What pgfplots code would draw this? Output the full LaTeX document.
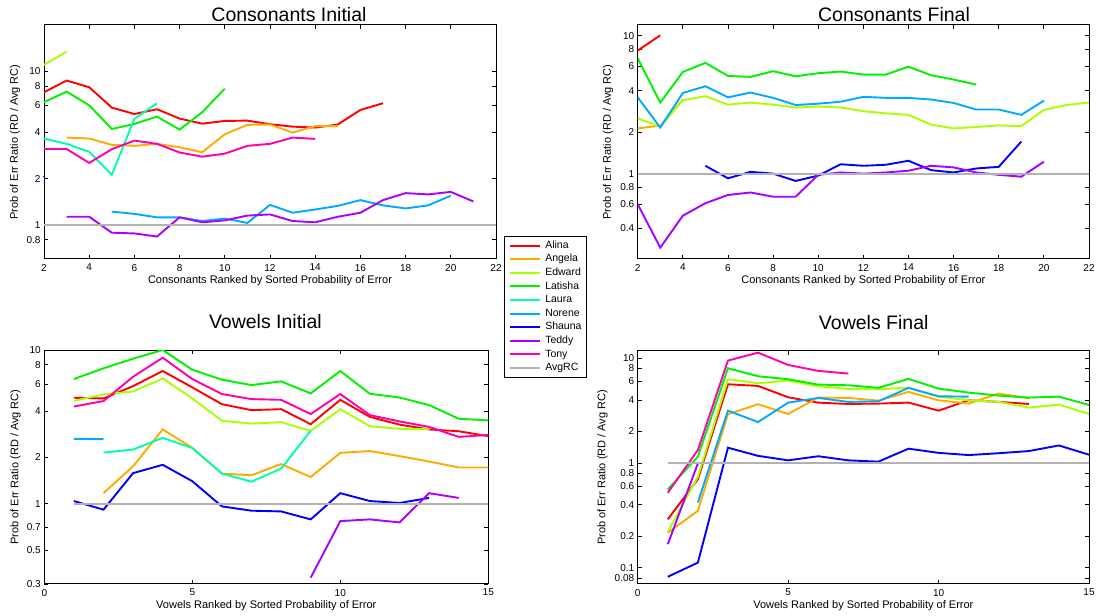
\documentclass[border=0pt]{standalone}
\usepackage{fontspec}
\setmainfont{Liberation Sans}
\usepackage{pgfplots}
\pgfplotsset{compat=1.18}
\definecolor{cAlina}{rgb}{1,0,0}
\definecolor{cAngela}{rgb}{1,0.6667,0}
\definecolor{cEdward}{rgb}{0.6667,1,0}
\definecolor{cLatisha}{rgb}{0,0.95,0}
\definecolor{cLaura}{rgb}{0,1,0.6667}
\definecolor{cNorene}{rgb}{0,0.6667,1}
\definecolor{cShauna}{rgb}{0,0,1}
\definecolor{cTeddy}{rgb}{0.6667,0,1}
\definecolor{cTony}{rgb}{1,0,0.6667}
\definecolor{cAvg}{rgb}{0.7,0.7,0.7}
\tikzset{ln/.style={line width=1.9pt}}
\pgfplotsset{
  /pgfplots/mystyle/.style={
    scale only axis, anchor=south west,
    axis line style={line width=1pt},
    tick style={black, line width=0.8pt}, major tick length=4pt,
    tick label style={font=\fontsize{10}{12}\selectfont},
    xticklabel style={yshift=-1.5pt},
    label style={font=\fontsize{11}{13}\selectfont},
  }
}
\begin{document}
\begin{tikzpicture}
% ---------------- Consonants Initial ----------------
\begin{axis}[mystyle, ymode=log, yminorticks=false,
  at={(44pt,357pt)}, width=452pt, height=234pt,
  xmin=2, xmax=22, xtick={2,4,...,22},
  xticklabels={2,4,6,8,10,12,14,16,18,20,22},
  ymin=0.6, ymax=20, ytick={0.8,1,2,4,6,8,10}, yticklabels={0.8,1,2,4,6,8,10},
  title={Consonants Initial},
  title style={at={(axis description cs:0.542,1.018)}, anchor=center, font=\fontsize{19.5}{22}\selectfont},
  xlabel={Consonants Ranked by Sorted Probability of Error},
  xlabel style={at={(axis description cs:0.5,-0.094)}, anchor=center},
  ylabel={Prob of Err Ratio (RD / Avg RC)},
  ylabel style={at={(axis description cs:-0.064,0.5)}, anchor=center},
  legend style={at={(axis description cs:1.0177,0.0983)}, anchor=north west,
    font=\fontsize{10.5}{12}\selectfont, draw=black, line width=0.8pt,
    inner xsep=5pt, inner ysep=4.5pt, row sep=4.1pt, column sep=4pt,
    nodes={inner sep=0pt, text height=7.5pt, text depth=2pt}, cells={anchor=west}},
  legend image code/.code={\draw[#1, line width=1.9pt] (8pt,0pt) -- (38pt,0pt);},
]
\addplot[cAlina, ln, forget plot] coordinates {(2,7.3)(3,8.7)(4,7.87)(5,5.8)(6,5.27)(7,5.66)(8,4.92)(9,4.56)(10,4.75)(11,4.77)(12,4.52)(13,4.36)(14,4.30)(15,4.50)(16,5.6)(17,6.19)};
\addplot[cAngela, ln, forget plot] coordinates {(3,3.70)(4,3.65)(5,3.32)(6,3.27)(7,3.37)(8,3.20)(9,2.97)(10,3.89)(11,4.48)(12,4.50)(13,3.99)(14,4.39)(15,4.39)};
\addplot[cEdward, ln, forget plot] coordinates {(2,11.0)(3,13.4)};
\addplot[cLatisha, ln, forget plot] coordinates {(2,6.29)(3,7.37)(4,6.0)(5,4.21)(6,4.54)(7,5.07)(8,4.17)(9,5.41)(10,7.71)};
\addplot[cLaura, ln, forget plot] coordinates {(2,3.65)(3,3.37)(4,2.99)(5,2.12)(6,4.9)(7,6.19)};
\addplot[cNorene, ln, forget plot] coordinates {(5,1.22)(6,1.18)(7,1.12)(8,1.12)(9,1.06)(10,1.10)(11,1.03)(12,1.35)(13,1.20)(14,1.26)(15,1.33)(16,1.45)(17,1.34)(18,1.28)(19,1.34)(20,1.55)};
\addplot[cShauna, forget plot, only marks, mark=*, mark size=0.6pt] coordinates {(2,2.06)};
\addplot[cTeddy, ln, forget plot] coordinates {(3,1.13)(4,1.13)(5,0.89)(6,0.88)(7,0.84)(8,1.12)(9,1.04)(10,1.07)(11,1.15)(12,1.17)(13,1.06)(14,1.04)(15,1.13)(16,1.20)(17,1.45)(18,1.61)(19,1.58)(20,1.64)(21,1.42)};
\addplot[cTony, ln, forget plot] coordinates {(2,3.12)(3,3.12)(4,2.53)(5,3.11)(6,3.54)(7,3.37)(8,2.96)(9,2.78)(10,2.91)(11,3.27)(12,3.37)(13,3.70)(14,3.63)};
\addplot[cAvg, ln, forget plot] coordinates {(2,1)(22,1)};
\addlegendimage{cAlina}\addlegendentry{Alina}
\addlegendimage{cAngela}\addlegendentry{Angela}
\addlegendimage{cEdward}\addlegendentry{Edward}
\addlegendimage{cLatisha}\addlegendentry{Latisha}
\addlegendimage{cLaura}\addlegendentry{Laura}
\addlegendimage{cNorene}\addlegendentry{Norene}
\addlegendimage{cShauna}\addlegendentry{Shauna}
\addlegendimage{cTeddy}\addlegendentry{Teddy}
\addlegendimage{cTony}\addlegendentry{Tony}
\addlegendimage{cAvg}\addlegendentry{AvgRC}
\end{axis}
% ---------------- Consonants Final ----------------
\begin{axis}[mystyle, ymode=log, yminorticks=false,
  at={(637.7pt,357pt)}, width=451.3pt, height=234pt,
  xmin=2, xmax=22, xtick={2,4,...,22},
  xticklabels={2,4,6,8,10,12,14,16,18,20,22},
  ymin=0.24, ymax=12, ytick={0.4,0.6,0.8,1,2,4,6,8,10}, yticklabels={0.4,0.6,0.8,1,2,4,6,8,10},
  title={Consonants Final},
  title style={at={(axis description cs:0.568,1.018)}, anchor=center, font=\fontsize{19.5}{22}\selectfont},
  xlabel={Consonants Ranked by Sorted Probability of Error},
  xlabel style={at={(axis description cs:0.5,-0.094)}, anchor=center},
  ylabel={Prob of Err Ratio (RD / Avg RC)},
  ylabel style={at={(axis description cs:-0.066,0.5)}, anchor=center},
]
\addplot[cAlina, ln] coordinates {(2,7.82)(3,10.1)};
\addplot[cAngela, ln] coordinates {(2,2.13)(3,2.23)(4,3.45)};
\addplot[cEdward, ln] coordinates {(2,2.52)(3,2.19)(4,3.41)(5,3.65)(6,3.17)(7,3.28)(8,3.17)(9,3.02)(10,3.07)(11,3.02)(12,2.84)(13,2.74)(14,2.67)(15,2.27)(16,2.13)(17,2.18)(18,2.24)(19,2.21)(20,2.90)(21,3.15)(22,3.28)};
\addplot[cLatisha, ln] coordinates {(2,6.88)(3,3.28)(4,5.47)(5,6.37)(6,5.12)(7,5.04)(8,5.54)(9,5.09)(10,5.36)(11,5.51)(12,5.24)(13,5.24)(14,5.98)(15,5.18)(16,4.82)(17,4.43)};
\addplot[cNorene, ln] coordinates {(2,3.58)(3,2.16)(4,3.85)(5,4.31)(6,3.58)(7,3.88)(8,3.55)(9,3.15)(10,3.22)(11,3.33)(12,3.61)(13,3.55)(14,3.55)(15,3.45)(16,3.26)(17,2.92)(18,2.92)(19,2.67)(20,3.39)};
\addplot[cShauna, ln] coordinates {(5,1.14)(6,0.925)(7,1.03)(8,1.0)(9,0.885)(10,0.967)(11,1.17)(12,1.14)(13,1.16)(14,1.24)(15,1.06)(16,1.02)(17,1.09)(18,1.12)(19,1.71)};
\addplot[cTeddy, ln] coordinates {(2,0.60)(3,0.29)(4,0.495)(5,0.61)(6,0.70)(7,0.73)(8,0.68)(9,0.68)(10,0.98)(11,1.02)(12,1.0)(13,1.02)(14,1.05)(15,1.14)(16,1.11)(17,1.02)(18,0.98)(19,0.95)(20,1.22)};
\addplot[cAvg, ln] coordinates {(2,1)(22,1)};
\end{axis}
% ---------------- Vowels Initial ----------------
\begin{axis}[mystyle, ymode=log, yminorticks=false,
  at={(44.3pt,32pt)}, width=444pt, height=234pt,
  xmin=0, xmax=15, xtick={0,5,10,15}, xticklabels={0,5,10,15},
  ymin=0.3, ymax=10, ytick={0.3,0.5,0.7,1,2,4,6,8,10}, yticklabels={0.3,0.5,0.7,1,2,4,6,8,10},
  title={Vowels Initial},
  title style={at={(axis description cs:0.498,1.094)}, anchor=center, font=\fontsize{19.5}{22}\selectfont},
  xlabel={Vowels Ranked by Sorted Probability of Error},
  xlabel style={at={(axis description cs:0.5,-0.094)}, anchor=center},
  ylabel={Prob of Err Ratio (RD / Avg RC)},
  ylabel style={at={(axis description cs:-0.065,0.5)}, anchor=center},
]
\addplot[cAlina, ln] coordinates {(1,4.89)(2,4.84)(3,5.82)(4,7.3)(5,5.71)(6,4.44)(7,4.06)(8,4.12)(9,3.29)(10,4.74)(11,3.67)(12,3.27)(13,3.04)(14,2.96)(15,2.75)};
\addplot[cAngela, ln] coordinates {(2,1.17)(3,1.75)(4,3.04)(5,2.31)(6,1.57)(7,1.53)(8,1.81)(9,1.49)(10,2.14)(11,2.20)(12,2.04)(13,1.88)(14,1.72)(15,1.72)};
\addplot[cEdward, ln] coordinates {(1,4.67)(2,5.14)(3,5.37)(4,6.53)(5,4.84)(6,3.46)(7,3.32)(8,3.39)(9,2.98)(10,4.12)(11,3.19)(12,3.07)(13,3.05)};
\addplot[cLatisha, ln] coordinates {(1,6.47)(2,7.6)(3,8.78)(4,10.0)(5,7.44)(6,6.41)(7,5.91)(8,6.25)(9,5.22)(10,7.3)(11,5.19)(12,4.91)(13,4.38)(14,3.57)(15,3.48)};
\addplot[cLaura, ln] coordinates {(2,2.15)(3,2.25)(4,2.68)(5,2.30)(6,1.57)(7,1.39)(8,1.69)(9,2.98)};
\addplot[cNorene, ln] coordinates {(1,2.64)(2,2.63)};
\addplot[cShauna, ln] coordinates {(1,1.04)(2,0.914)(3,1.58)(4,1.79)(5,1.40)(6,0.96)(7,0.90)(8,0.89)(9,0.79)(10,1.17)(11,1.04)(12,1.01)(13,1.09)};
\addplot[cTeddy, ln] coordinates {(9,0.33)(10,0.77)(11,0.79)(12,0.755)(13,1.17)(14,1.09)};
\addplot[cTony, ln] coordinates {(1,4.29)(2,4.65)(3,6.70)(4,8.91)(5,6.47)(6,5.17)(7,4.79)(8,4.74)(9,3.83)(10,5.17)(11,3.77)(12,3.43)(13,3.16)(14,2.72)(15,2.80)};
\addplot[cAvg, ln] coordinates {(1,1)(15,1)};
\end{axis}
% ---------------- Vowels Final ----------------
\begin{axis}[mystyle, ymode=log, yminorticks=false,
  at={(637.7pt,32pt)}, width=451.3pt, height=233.3pt,
  xmin=0, xmax=15, xtick={0,5,10,15}, xticklabels={0,5,10,15},
  ymin=0.07, ymax=11.8, ytick={0.08,0.1,0.2,0.4,0.6,0.8,1,2,4,6,8,10}, yticklabels={0.08,0.1,0.2,0.4,0.6,0.8,1,2,4,6,8,10},
  title={Vowels Final},
  title style={at={(axis description cs:0.523,1.094)}, anchor=center, font=\fontsize{19.5}{22}\selectfont},
  xlabel={Vowels Ranked by Sorted Probability of Error},
  xlabel style={at={(axis description cs:0.5,-0.094)}, anchor=center},
  ylabel={Prob of Err Ratio (RD / Avg RC)},
  ylabel style={at={(axis description cs:-0.078,0.5)}, anchor=center},
]
\addplot[cAlina, ln] coordinates {(1,0.29)(2,0.70)(3,5.64)(4,5.44)(5,4.24)(6,3.77)(7,3.66)(8,3.69)(9,3.77)(10,3.16)(11,3.97)(12,3.83)(13,3.66)};
\addplot[cAngela, ln] coordinates {(1,0.216)(2,0.35)(3,2.92)(4,3.64)(5,2.94)(6,4.21)(7,4.18)(8,3.94)(9,4.77)(10,3.97)(11,3.69)(12,4.60)(13,4.15)};
\addplot[cEdward, ln] coordinates {(1,0.22)(2,0.74)(3,6.3)(4,5.77)(5,6.12)(6,5.40)(7,5.09)(8,5.05)(9,5.24)(10,4.30)(11,3.97)(12,3.83)(13,3.38)(14,3.61)(15,2.94)};
\addplot[cLatisha, ln] coordinates {(1,0.56)(2,1.15)(3,8.02)(4,6.73)(5,6.30)(6,5.60)(7,5.52)(8,5.21)(9,6.35)(10,5.13)(11,4.70)(12,4.40)(13,4.21)(14,4.30)(15,3.58)};
\addplot[cNorene, ln] coordinates {(2,0.42)(3,3.16)(4,2.46)(5,3.77)(6,4.18)(7,3.83)(8,3.88)(9,5.21)(10,4.33)(11,4.30)};
\addplot[cShauna, ln] coordinates {(1,0.082)(2,0.112)(3,1.40)(4,1.17)(5,1.06)(6,1.16)(7,1.06)(8,1.03)(9,1.37)(10,1.25)(11,1.19)(12,1.24)(13,1.30)(14,1.47)(15,1.20)};
\addplot[cTeddy, ln] coordinates {(1,0.168)(2,0.99)};
\addplot[cTony, ln] coordinates {(1,0.52)(2,1.33)(3,9.5)(4,11.3)(5,8.63)(6,7.57)(7,7.14)};
\addplot[cAvg, ln] coordinates {(1,1)(15,1)};
\end{axis}
\pgfresetboundingbox
\path (0pt,0pt) rectangle (1096pt,616pt);
\end{tikzpicture}
\end{document}
